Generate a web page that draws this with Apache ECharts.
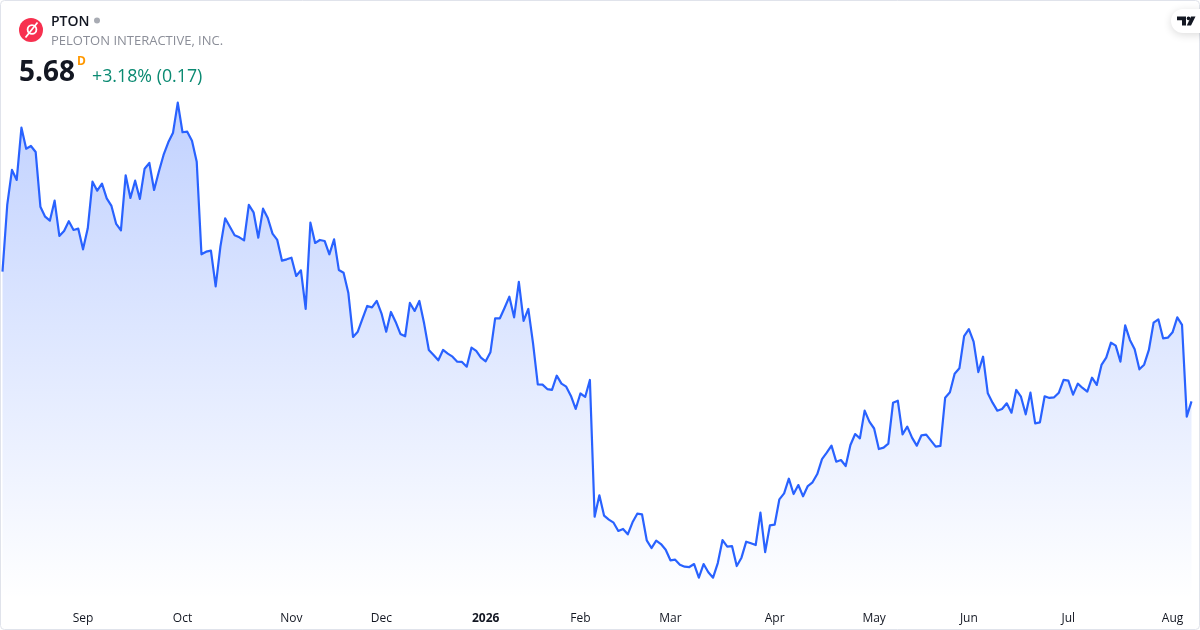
<!DOCTYPE html>
<html><head><meta charset="utf-8">
<style>html,body{margin:0;padding:0;background:#fff}#c{width:1200px;height:630px}</style>
<script src="https://cdn.jsdelivr.net/npm/echarts@6/dist/echarts.min.js"></script>
</head><body><div id="c"></div>
<script>
const prices=[
7.106,7.840,8.225,8.115,8.690,8.459,8.489,8.423,7.821,7.711,7.667,7.887,7.499,7.554,7.661,7.565,7.579,7.352,7.583,8.096,
7.997,8.074,7.913,7.829,7.631,7.561,8.166,7.917,8.107,7.906,8.239,8.302,8.005,8.206,8.390,8.529,8.635,8.965,8.640,8.646,
8.547,8.316,7.297,7.326,7.337,6.945,7.381,7.693,7.601,7.506,7.484,7.451,7.840,7.759,7.480,7.799,7.697,7.524,7.455,7.227,
7.242,7.260,7.059,7.121,6.696,7.645,7.422,7.455,7.444,7.297,7.462,7.125,7.095,6.875,6.388,6.446,6.589,6.729,6.714,6.784,
6.648,6.446,6.663,6.553,6.421,6.395,6.762,6.674,6.784,6.538,6.245,6.190,6.131,6.245,6.204,6.171,6.116,6.113,6.061,6.270,
6.234,6.160,6.120,6.219,6.593,6.593,6.710,6.831,6.604,6.993,6.564,6.696,6.318,5.867,5.863,5.815,5.805,5.962,5.874,5.841,
5.739,5.596,5.766,5.728,5.915,4.411,4.646,4.422,4.378,4.345,4.254,4.276,4.217,4.349,4.444,4.437,4.151,4.066,4.147,4.110,
4.048,3.931,3.938,3.883,3.861,3.857,3.890,3.740,3.890,3.799,3.740,3.901,4.154,4.081,4.088,3.868,3.960,4.136,4.118,4.099,
4.455,4.022,4.316,4.323,4.602,4.668,4.829,4.660,4.759,4.635,4.748,4.789,4.880,5.045,5.115,5.192,5.016,5.034,4.968,5.199,
5.320,5.273,5.577,5.456,5.381,5.155,5.170,5.214,5.665,5.687,5.317,5.401,5.280,5.192,5.306,5.313,5.247,5.181,5.189,5.720,
5.779,5.984,6.043,6.398,6.475,6.336,6.002,6.171,5.768,5.665,5.577,5.596,5.658,5.555,5.805,5.731,5.537,5.775,5.438,5.449,
5.735,5.717,5.724,5.775,5.915,5.907,5.753,5.874,5.827,5.786,5.940,5.860,6.080,6.160,6.325,6.292,6.116,6.516,6.355,6.252,
6.032,6.083,6.245,6.545,6.582,6.373,6.380,6.439,6.604,6.520,5.511,5.680];
const tickLabels=['Sep','Oct','Nov','Dec','2026','Feb','Mar','Apr','May','Jun','Jul','Aug'];
const tickIndex=[17,38,61,80,102,122,141,163,184,204,225,247];
const categories=prices.map(function(_,i){const k=tickIndex.indexOf(i);return k<0?'':tickLabels[k];});
const FONT='"Open Sans","Noto Sans",sans-serif';
const chart=echarts.init(document.getElementById('c'),null,{renderer:'canvas'});
chart.setOption({
  animation:false,
  backgroundColor:'#fff',
  grid:{left:2.5,width:1189,top:99.5,height:500,containLabel:false},
  xAxis:{type:'category',data:categories,boundaryGap:false,
    axisLine:{show:false},axisTick:{show:false},splitLine:{show:false},
    axisLabel:{interval:function(i,v){return v!=='';},margin:13,hideOverlap:false,
      color:'#131722',fontSize:12,fontFamily:FONT,
      formatter:function(v){return v==='2026'?'{b|2026}':v;},
      rich:{b:{fontWeight:'bold',fontSize:12,fontFamily:FONT,color:'#131722'}}}},
  yAxis:{type:'value',min:3.5,max:9,show:false},
  series:[{type:'line',data:prices,symbol:'none',smooth:false,
    lineStyle:{color:'#2962ff',width:2.2,join:'round'},
    areaStyle:{opacity:1,color:new echarts.graphic.LinearGradient(0,0,0,1,[
      {offset:0,color:'rgba(41,98,255,0.29)'},{offset:1,color:'rgba(41,98,255,0)'}])}}],
  graphic:[
    {type:'rect',shape:{x:0.5,y:0.5,width:1199,height:629,r:4},style:{fill:null,stroke:'#e0e3eb',lineWidth:1},silent:true,z:1},
    {type:'circle',shape:{cx:31,cy:30,r:12},style:{fill:'#f7304f'},z:10},
    {type:'circle',shape:{cx:32,cy:29.5,r:4.4},style:{fill:null,stroke:'#fff',lineWidth:1.8},z:11},
    {type:'line',shape:{x1:25.5,y1:37.5,x2:37.5,y2:22.5},style:{stroke:'#fff',lineWidth:1.8},z:11},
    {type:'text',x:51,y:15,style:{text:'PTON',font:'600 14px '+FONT,fill:'#131722'},z:10},
    {type:'circle',shape:{cx:97,cy:20.5,r:3},style:{fill:'#a8abb3'},z:10},
    {type:'text',x:51,y:35,style:{text:'PELOTON INTERACTIVE, INC.',font:'13px '+FONT,fill:'#8b8e98'},z:10},
    {type:'text',x:19,y:59,style:{text:'5.68',font:'bold 28px '+FONT,fill:'#131722'},z:10},
    {type:'text',x:77,y:56,style:{text:'D',font:'bold 12px '+FONT,fill:'#ff9800'},z:10},
    {type:'text',x:92,y:68,style:{text:'+3.18% (0.17)',font:'17.8px '+FONT,fill:'#0b8a72'},z:10},
    {type:'rect',shape:{x:1171,y:9,width:40,height:24,r:12},style:{fill:'#fff',shadowBlur:8,shadowColor:'rgba(0,0,0,0.14)',shadowOffsetY:2},z:10},
    {type:'polygon',shape:{points:[[1177,16.5],[1186,16.5],[1186,25.5],[1182,25.5],[1182,20.2],[1177,20.2]]},style:{fill:'#131722'},z:11},
    {type:'circle',shape:{cx:1188.5,cy:18.4,r:1.8},style:{fill:'#131722'},z:11},
    {type:'polygon',shape:{points:[[1191,16.5],[1195.5,16.5],[1191,25.5],[1186.8,25.5]]},style:{fill:'#131722'},z:11}
  ]
});
</script></body></html>
